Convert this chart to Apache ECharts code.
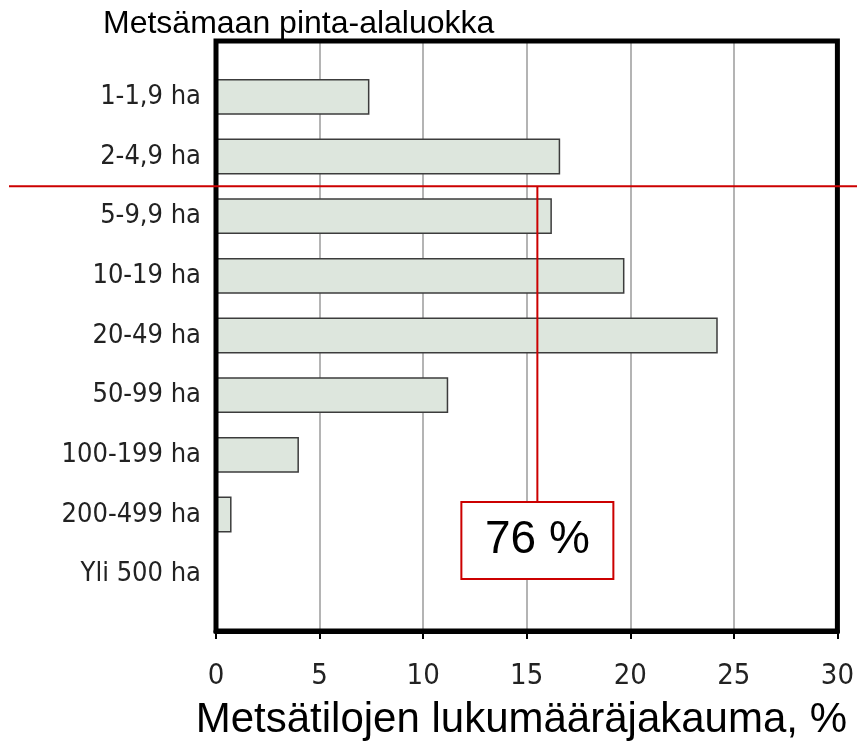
<!DOCTYPE html>
<html lang="fi">
<head>
<meta charset="UTF-8">
<title>Metsätilojen lukumääräjakauma</title>
<script src="https://cdn.jsdelivr.net/npm/echarts@6/dist/echarts.min.js"></script>
<style>
  html, body { margin: 0; padding: 0; background: #fff; }
  #chart { width: 857px; height: 743px; }
</style>
</head>
<body>
<div id="chart"></div>
<script>
// metsämaan pinta-alaluokat ja tilojen osuus, %
var categories = ['1-1,9 ha', '2-4,9 ha', '5-9,9 ha', '10-19 ha', '20-49 ha', '50-99 ha', '100-199 ha', '200-499 ha', 'Yli 500 ha'];
var shares = [7.4, 16.6, 16.2, 19.7, 24.2, 11.2, 4.0, 0.75, 0];
var xTicks = [0, 5, 10, 15, 20, 25, 30];

// punainen merkintä: raja 2-4,9 ja 5-9,9 välissä, pystyviiva arvossa 15.5
var cutAfter = 1;
var cutValue = 15.5;
var cutLabel = '76 %';

var narrow = "'Liberation Sans Narrow', 'DejaVu Sans Condensed', 'Arial Narrow', sans-serif";
var plain = "'Liberation Sans', Arial, sans-serif";

var chart = echarts.init(document.getElementById('chart'));

var option = {
    animation: false,
    backgroundColor: '#fff',
    title: [{
        text: 'Metsämaan pinta-alaluokka',
        left: 98,
        top: 3,
        textStyle: { fontSize: 32, fontWeight: 'normal', color: '#000', fontFamily: plain }
    }, {
        text: 'Metsätilojen lukumääräjakauma, %',
        right: 5,
        top: 694,
        textStyle: { fontSize: 42, fontWeight: 'normal', color: '#000', fontFamily: plain }
    }],
    grid: [
        // ulkokehys, piirretään palkkien päälle
        { left: 216, right: 19, top: 41, bottom: 112, show: true, z: 5, backgroundColor: 'transparent', borderColor: '#000', borderWidth: 5 },
        // palkit
        { left: 216, right: 19, top: 67, bottom: 139 }
    ],
    xAxis: [{
        gridIndex: 0,
        type: 'value',
        min: xTicks[0],
        max: xTicks[xTicks.length - 1],
        interval: xTicks[1] - xTicks[0],
        axisLine: { show: true, lineStyle: { color: '#000', width: 5 } },
        axisTick: { show: true, length: 8, lineStyle: { color: '#000', width: 2 } },
        splitLine: { show: true, showMinLine: false, showMaxLine: false, lineStyle: { color: '#b4b4b4', width: 2 } },
        axisLabel: { fontSize: 29, color: '#222', fontFamily: narrow, margin: 31 }
    }, {
        gridIndex: 1,
        type: 'value',
        min: xTicks[0],
        max: xTicks[xTicks.length - 1],
        show: false
    }],
    yAxis: [{
        gridIndex: 0,
        type: 'value',
        show: false
    }, {
        gridIndex: 1,
        type: 'category',
        data: categories,
        inverse: true,
        axisLine: { show: false },
        axisTick: { show: false },
        axisLabel: { fontSize: 27, color: '#222', fontFamily: narrow, margin: 15 }
    }],
    series: [{
        type: 'bar',
        xAxisIndex: 1,
        yAxisIndex: 1,
        data: shares,
        barCategoryGap: '40%',
        itemStyle: { color: '#dde6dd', borderColor: '#3c3c3c', borderWidth: 1.5 }
    }]
};

chart.setOption(option);

// merkinnän paikka lasketaan akseleilta
var xCut = chart.convertToPixel({ xAxisIndex: 1 }, cutValue);
var yA = chart.convertToPixel({ yAxisIndex: 1 }, categories[cutAfter]);
var yB = chart.convertToPixel({ yAxisIndex: 1 }, categories[cutAfter + 1]);
var yCut = (yA + yB) / 2;
var boxW = 152, boxH = 77, boxTop = 502;

chart.setOption({
    graphic: [{
        type: 'line', z: 100,
        shape: { x1: 9, y1: yCut, x2: 857, y2: yCut },
        style: { stroke: '#cc0000', lineWidth: 2 }
    }, {
        type: 'line', z: 100,
        shape: { x1: xCut, y1: yCut, x2: xCut, y2: boxTop },
        style: { stroke: '#cc0000', lineWidth: 2 }
    }, {
        type: 'rect', z: 100,
        shape: { x: xCut - boxW / 2, y: boxTop, width: boxW, height: boxH },
        style: { fill: '#fff', stroke: '#cc0000', lineWidth: 2 }
    }, {
        type: 'text', z: 101,
        x: xCut, y: boxTop + boxH / 2,
        style: { text: cutLabel, fontSize: 46, fontFamily: plain, fill: '#000', align: 'center', verticalAlign: 'middle' }
    }]
});
</script>
</body>
</html>
